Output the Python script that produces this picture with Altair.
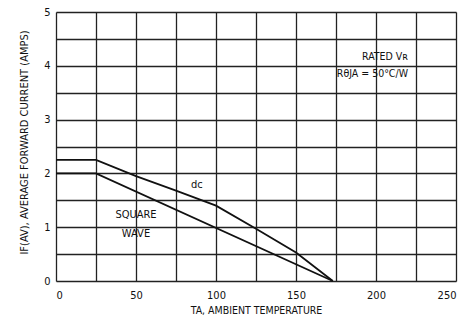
import altair as alt
import pandas as pd

# Curve data
dc_temp = [0, 25, 50, 75, 100, 125, 150, 173]
dc_amps = [2.25, 2.25, 1.95, 1.68, 1.40, 0.97, 0.53, 0.0]
sq_temp = [0, 25, 173]
sq_amps = [2.0, 2.0, 0.0]

x_grid = [0, 25, 50, 75, 100, 125, 150, 175, 200, 225, 250]
y_grid = [0, 0.5, 1, 1.5, 2, 2.5, 3, 3.5, 4, 4.5, 5]

labels_text = ["dc", "SQUARE", "WAVE"]
labels_x = [88, 50, 50]
labels_y = [1.78, 1.23, 0.88]

note_text = ["RATED V\u0280", "R\u03b8JA  =  50\u00b0C/W"]
note_x = [220, 220]
note_y = [4.16, 3.84]

FONT = "'DejaVu Sans Condensed', 'Liberation Sans', sans-serif"

df = pd.concat([
    pd.DataFrame({"t": dc_temp, "a": dc_amps, "s": "dc"}),
    pd.DataFrame({"t": sq_temp, "a": sq_amps, "s": "square"}),
])
lab = pd.DataFrame({"t": labels_x, "a": labels_y, "txt": labels_text})
note = pd.DataFrame({"t": note_x, "a": note_y, "txt": note_text})

xs = alt.Scale(domain=[0, 250], nice=False, zero=False)
ys = alt.Scale(domain=[0, 5], nice=False)

xaxis = alt.Axis(values=x_grid, title="TA, AMBIENT TEMPERATURE",
                 labelExpr="datum.value % 50 == 0 ? format(datum.value, 'd') : ''",
                 grid=True, gridColor="#222", gridWidth=1.3, gridOpacity=1,
                 ticks=False, labelPadding=8, labelFontSize=11, labelFont=FONT,
                 labelOverlap=False,
                 titleFont=FONT, titleFontSize=10.5, titleFontWeight="normal",
                 titlePadding=5, domain=False, labelColor="#111", titleColor="#111")
yaxis = alt.Axis(values=y_grid, title="IF(AV), AVERAGE FORWARD CURRENT (AMPS)",
                 labelExpr="datum.value % 1 == 0 ? format(datum.value, 'd') : ''",
                 grid=True, gridColor="#222", gridWidth=1.3, gridOpacity=1,
                 ticks=False, labelPadding=6, labelFontSize=11, labelFont=FONT,
                 labelOverlap=False,
                 titleFont=FONT, titleFontSize=11, titleFontWeight="normal",
                 titlePadding=14, titleY=130, domain=False,
                 labelColor="#111", titleColor="#111")

lines = alt.Chart(df).mark_line(color="#111", strokeWidth=1.8).encode(
    x=alt.X("t:Q", scale=xs, axis=xaxis),
    y=alt.Y("a:Q", scale=ys, axis=yaxis),
    detail="s:N",
)

texts = alt.Chart(lab).mark_text(font=FONT, fontSize=11, color="#111").encode(
    x=alt.X("t:Q", scale=xs, axis=xaxis), y=alt.Y("a:Q", scale=ys, axis=yaxis), text="txt:N")

notes = alt.Chart(note).mark_text(font=FONT, fontSize=10.5, color="#111", align="right").encode(
    x=alt.X("t:Q", scale=xs, axis=xaxis), y=alt.Y("a:Q", scale=ys, axis=yaxis), text="txt:N")

chart = (lines + texts + notes).properties(
    width=400, height=269,
    autosize=alt.AutoSizeParams(type="none"),
    padding={"left": 56, "top": 12, "right": 4, "bottom": 47},
).configure_view(stroke="#111", strokeWidth=2).configure(background="white")

chart.save("out.html", embed_options={"renderer": "svg", "actions": False})
